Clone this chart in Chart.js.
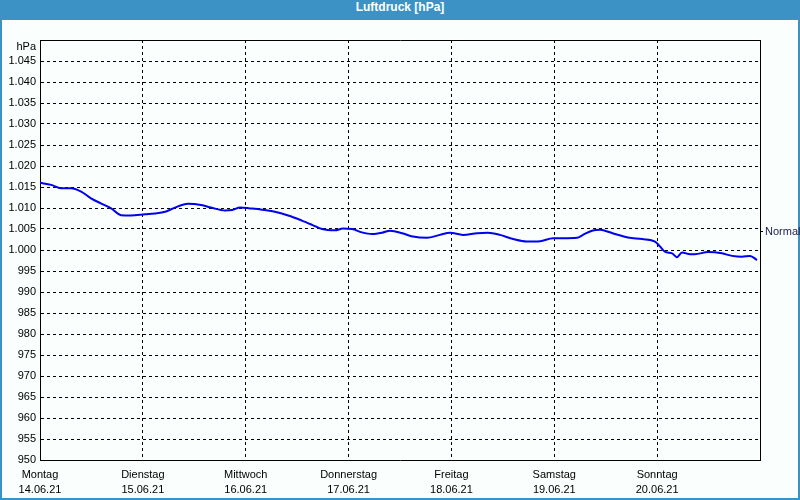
<!DOCTYPE html>
<html>
<head>
<meta charset="utf-8">
<script src="https://cdn.jsdelivr.net/npm/chart.js@4"></script>
<style>
    body { margin: 0; }
    #frame { position: relative; width: 800px; height: 500px; background: #3c92c4; overflow: hidden; }
    #titel { position: absolute; left: 0; top: 0; width: 800px; height: 20px; line-height: 20px; text-align: center;
             color: #fff; font: bold 12px "Liberation Sans", Arial, sans-serif; }
    #innen { position: absolute; left: 2px; top: 20px; width: 796px; height: 478px; background: #fafefc; }
    #myChart { position: absolute; left: 0; top: 0; }
</style>
</head>
<body>
<div id="frame">
    <div id="titel">Luftdruck [hPa]</div>
    <div id="innen"></div>
    <canvas id="myChart" width="800" height="500"></canvas>
</div>
<script>
// Stunden seit Montag 00:00
const stunden = [0, 2.6, 4.9, 7.2, 9.6, 11.9, 14.2, 16.6, 18.9, 21.2,
    24.5, 26.8, 29.2, 31.5, 34.5, 37.6, 39.9, 43.2,
    44.8, 46.7, 49.0, 51.8, 54.8, 57.9, 61.1, 63.5, 65.8, 68.8, 70.7, 72.8, 75.1, 77.5, 79.8, 81.7, 84.5, 87.0,
    90.3, 93.3, 95.7, 98.7, 102.0, 104.5, 107.3, 110.4, 113.6, 116.7, 119.7, 122.0, 125.3, 126.7, 128.8, 130.7,
    131.8, 134.2, 137.2, 140.5, 143.5, 144.7, 145.8, 147.5, 148.6, 149.8, 151.7, 152.8, 155.9, 159.1, 161.5, 163.8, 165.7, 167.3];
const luftdruck = [1016.0, 1015.5, 1014.7, 1014.7, 1013.9, 1012.3, 1011.1, 1009.9, 1008.3, 1008.2,
    1008.5, 1008.7, 1009.1, 1010.1, 1011.0, 1010.7, 1010.1, 1009.4,
    1009.5, 1010.1, 1009.9, 1009.6, 1009.1, 1008.2, 1007.0, 1006.0, 1005.0, 1004.7, 1005.1, 1005.0, 1004.2, 1003.8, 1004.1, 1004.6, 1004.0, 1003.2,
    1002.9, 1003.6, 1004.1, 1003.6, 1004.0, 1004.1, 1003.6, 1002.6, 1002.0, 1002.1, 1002.8, 1002.8, 1002.9, 1003.6, 1004.6, 1004.8,
    1004.6, 1003.8, 1003.0, 1002.6, 1002.0, 1000.8, 999.6, 999.2, 998.3, 999.4, 999.0, 999.0, 999.5, 999.2, 998.6, 998.4, 998.6, 997.6];
const tage = ["Montag", "Dienstag", "Mittwoch", "Donnerstag", "Freitag", "Samstag", "Sonntag"];
const daten = ["14.06.21", "15.06.21", "16.06.21", "17.06.21", "18.06.21", "19.06.21", "20.06.21"];
const normal = 1004.3;

const ctx = document.getElementById('myChart');
const schrift = { family: "'Liberation Sans', Arial, sans-serif", size: 11 };
const dash = [3, 3];

function formatHPa(v) {
    // Einheit statt 1.050, eine Zeile tiefer
    if (v == 1050) return ["", "hPa"];
    if (v >= 1000) return "1." + String(v - 1000).padStart(3, "0");
    return String(v);
}

let punkte = new Array();
for (let i = 0; i < stunden.length; i++) {
    punkte.push({ x: stunden[i], y: luftdruck[i] });
}

var myChart = new Chart(ctx, {
    type: 'line',
    data: {
        datasets: [{
            label: 'Luftdruck',
            data: punkte,
            borderColor: '#0000ee',
            borderWidth: 2,
            pointRadius: 0,
            tension: 0.3,
            cubicInterpolationMode: 'monotone',
            yAxisID: 'y'
        }]
    },
    options: {
        responsive: false,
        animation: false,
        layout: { padding: { top: 40, left: 0, right: 0, bottom: 0 } },
        plugins: { legend: { display: false }, tooltip: { enabled: false } },
        scales: {
            x: {
                type: 'linear',
                position: 'bottom',
                min: 0, max: 168,
                afterBuildTicks: function (s) { s.ticks = [0, 24, 48, 72, 96, 120, 144, 168].map(v => ({ value: v })); },
                afterFit: function (s) { s.height = 40; },
                ticks: {
                    autoSkip: false, maxRotation: 0, padding: 7, color: '#000',
                    font: { family: schrift.family, size: 11, lineHeight: 1.4 },
                    callback: function (v, i) { return i < tage.length ? [tage[i], daten[i]] : ''; }
                },
                grid: { color: '#000', lineWidth: 1, drawTicks: false },
                border: { display: true, color: '#000', width: 1, dash: dash }
            },
            xTop: {
                type: 'linear',
                position: 'top',
                min: 0, max: 168,
                afterFit: function (s) { s.height = 0; },
                ticks: { display: false },
                grid: { display: false },
                border: { display: true, color: '#000', width: 1 }
            },
            y: {
                position: 'left',
                min: 950, max: 1050,
                afterFit: function (s) { s.width = 40; },
                ticks: { stepSize: 5, autoSkip: false, padding: 4, color: '#000', font: schrift, callback: formatHPa },
                grid: { color: '#000', lineWidth: 1, drawTicks: false },
                border: { display: true, color: '#000', width: 1, dash: dash }
            },
            yNormal: {
                position: 'right',
                min: 950, max: 1050,
                afterBuildTicks: function (s) { s.ticks = [{ value: normal }]; },
                afterFit: function (s) { s.width = 40; },
                ticks: { padding: 2, color: '#1c1c50', font: schrift, callback: function () { return 'Normal'; } },
                grid: { drawOnChartArea: false, color: '#000', tickLength: 3 },
                border: { display: true, color: '#000', width: 1 }
            }
        }
    }
});
</script>
</body>
</html>
